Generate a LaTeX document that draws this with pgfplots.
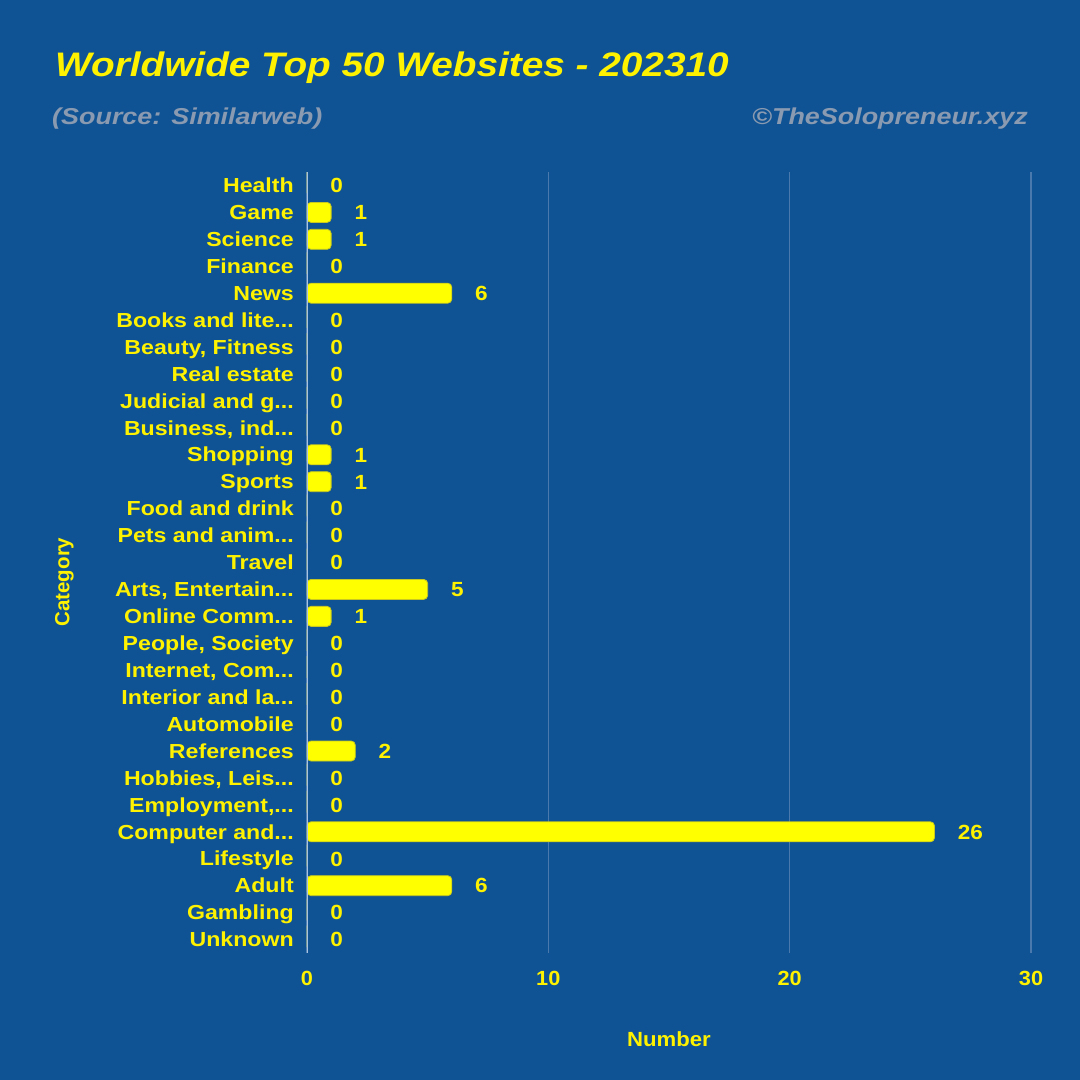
\documentclass[border=0pt]{standalone}
\usepackage{fontspec}
\setmainfont{Liberation Sans}
\usepackage{pgfplots}
\pgfplotsset{compat=1.18}
\definecolor{bg}{HTML}{0F5394}
\definecolor{gridc}{HTML}{4A79AE}
\definecolor{axc}{HTML}{A9C3E3}
\definecolor{subc}{HTML}{8A9AB0}
\definecolor{barc}{HTML}{FFFF00}
\definecolor{bard}{HTML}{C8C820}
\newcommand\el{...}
\begin{document}
\begin{tikzpicture}[x=1pt,y=1pt]
\fill[bg] (0,0) rectangle (1080,1080);
\node[anchor=base west, inner sep=0, xscale=1.14, text=yellow, font=\bfseries\itshape\fontsize{34}{38}\selectfont] at (55,1003) {Worldwide Top 50 Websites - 202310};
\node[anchor=base west, inner sep=0, xscale=1.17, text=subc, font=\bfseries\itshape\fontsize{23}{26}\selectfont] at (52,955) {(Source: Similarweb)};
\node[anchor=base east, inner sep=0, xscale=1.17, text=subc, font=\bfseries\itshape\fontsize{23}{26}\selectfont] at (1028,955) {©TheSolopreneur.xyz};
\begin{axis}[
  at={(307pt,127pt)}, anchor=south west, scale only axis,
  width=724pt, height=781pt,
  xbar, bar width=20pt,
  xmin=0, xmax=30, ymin=-0.5, ymax=28.5, y dir=reverse,
  axis line style={draw=none},
  xtick={0,10,20,30}, ytick={0,1,2,3,4,5,6,7,8,9,10,11,12,13,14,15,16,17,18,19,20,21,22,23,24,25,26,27,28},
  yticklabels={Health,Game,Science,Finance,News,Books and lite\el,{Beauty, Fitness},Real estate,Judicial and g\el,{Business, ind\el},Shopping,Sports,Food and drink,Pets and anim\el,Travel,{Arts, Entertain\el},Online Comm\el,{People, Society},{Internet, Com\el},Interior and la\el,Automobile,References,{Hobbies, Leis\el},{Employment,\el},Computer and\el,Lifestyle,Adult,Gambling,Unknown},
  major tick length=0,
  xmajorgrids, major grid style={gridc, line width=1.3pt},
  yticklabel style={anchor=base east, inner sep=0pt, xshift=-13pt, yshift=-7.2pt, xscale=1.14, text=yellow, font=\bfseries\fontsize{20.3}{20}\selectfont},
  xticklabel style={anchor=north, inner sep=0pt, yshift=-18pt, xscale=1.06, text=yellow, font=\bfseries\fontsize{20.5}{20}\selectfont},
  /pgf/number format/assume math mode=true,
  xlabel={Number}, ylabel={Category},
  xlabel style={text=yellow, xscale=1.08, font=\bfseries\fontsize{20.5}{20}\selectfont, at={(axis description cs:0.5,-0.110)}, anchor=center},
  ylabel style={text=yellow, font=\bfseries\fontsize{20.5}{20}\selectfont, at={(axis description cs:-0.335,0.475)}, anchor=center},
  nodes near coords,
  nodes near coords style={anchor=base west, inner sep=0pt, xshift=23pt, yshift=-7.3pt, xscale=1.1, text=yellow, font=\bfseries\fontsize{20.5}{20}\selectfont},
]
\addplot[fill=barc, draw=bard, line width=0.8pt, rounded corners=4pt] coordinates {
(0,0) (1,1) (1,2) (0,3) (6,4) (0,5) (0,6) (0,7) (0,8) (0,9)
(1,10) (1,11) (0,12) (0,13) (0,14) (5,15) (1,16) (0,17) (0,18) (0,19)
(0,20) (2,21) (0,22) (0,23) (26,24) (0,25) (6,26) (0,27) (0,28)
};
\draw[axc, line width=1.5pt] (axis cs:0,-0.5) -- (axis cs:0,28.5);
\end{axis}
\end{tikzpicture}
\end{document}
